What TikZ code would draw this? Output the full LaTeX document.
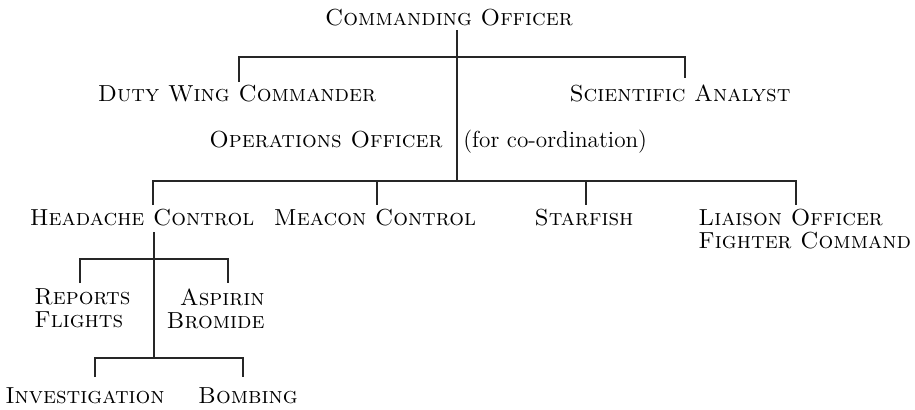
\documentclass[tikz,border=0pt]{standalone}
\usepackage{tikz}
\tikzset{
  orgtext/.style={inner sep=0pt,font=\fontsize{11.6}{11.5}\selectfont\scshape},
  orgnote/.style={inner sep=0pt,font=\fontsize{11.6}{11.5}\selectfont},
  orgline/.style={line width=0.8pt,black!85}
}
\begin{document}
\begin{tikzpicture}[x=0.5pt,y=-0.5pt]
  \useasboundingbox (0,0) rectangle (915,409);
  % top level
  \node[orgtext,anchor=base] (co) at (449,25) {Commanding Officer};
  \node[orgtext,anchor=base] (duty) at (237,101) {Duty Wing Commander};
  \node[orgtext,anchor=base] (sci) at (680,101) {Scientific Analyst};
  \node[orgtext,anchor=base east] (ops) at (443,147) {Operations Officer};
  \node[orgnote,anchor=base west] (coord) at (463,147) {(for co-ordination)};
  % second level
  \node[orgtext,anchor=base] (head) at (142,225) {Headache Control};
  \node[orgtext,anchor=base] (meacon) at (375,225) {Meacon Control};
  \node[orgtext,anchor=base] (star) at (584,225) {Starfish};
  \node[orgtext,anchor=north west,align=left] (liaison) at (698,209)
    {Liaison Officer\\Fighter Command};
  % headache sections
  \node[orgtext,anchor=north west,align=left] (reports) at (34,288)
    {Reports\\Flights};
  \node[orgtext,anchor=north east,align=right] (aspirin) at (265,288)
    {Aspirin\\Bromide};
  \node[orgtext,anchor=base] (invest) at (85,403) {Investigation};
  \node[orgtext,anchor=base] (bomb) at (248,403) {Bombing};

  % junctions
  \coordinate (costem) at (457,30);
  \coordinate (bar1) at (457,57);
  \coordinate (bar1l) at (239,57);
  \coordinate (bar1r) at (685,57);
  \coordinate (dutytop) at (239,82);
  \coordinate (scitop) at (685,78);
  \coordinate (bar2) at (457,181);
  \coordinate (bar2l) at (153,181);
  \coordinate (bar2r) at (796,181);
  \coordinate (headtop) at (153,205);
  \coordinate (meacontop) at (377,205);
  \coordinate (startop) at (586,205);
  \coordinate (liaisontop) at (796,205);
  \coordinate (headstem) at (154,232);
  \coordinate (bar3) at (154,259);
  \coordinate (bar3l) at (80,259);
  \coordinate (bar3r) at (228,259);
  \coordinate (reportstop) at (80,283);
  \coordinate (aspirintop) at (228,283);
  \coordinate (bar4) at (154,358);
  \coordinate (bar4l) at (95,358);
  \coordinate (bar4r) at (243,358);
  \coordinate (investtop) at (95,377);
  \coordinate (bombtop) at (243,377);

  % connectors
  \draw[orgline] (costem) -- (bar1);
  \draw[orgline] (dutytop) -- (bar1l) -- (bar1r) -- (scitop);
  \draw[orgline] (bar1) -- (bar2);
  \draw[orgline] (headtop) -- (bar2l) -- (bar2r) -- (liaisontop);
  \draw[orgline] (meacontop |- bar2) -- (meacontop);
  \draw[orgline] (startop |- bar2) -- (startop);
  \draw[orgline] (headstem) -- (bar3);
  \draw[orgline] (reportstop) -- (bar3l) -- (bar3r) -- (aspirintop);
  \draw[orgline] (bar3) -- (bar4);
  \draw[orgline] (investtop) -- (bar4l) -- (bar4r) -- (bombtop);
\end{tikzpicture}
\end{document}
